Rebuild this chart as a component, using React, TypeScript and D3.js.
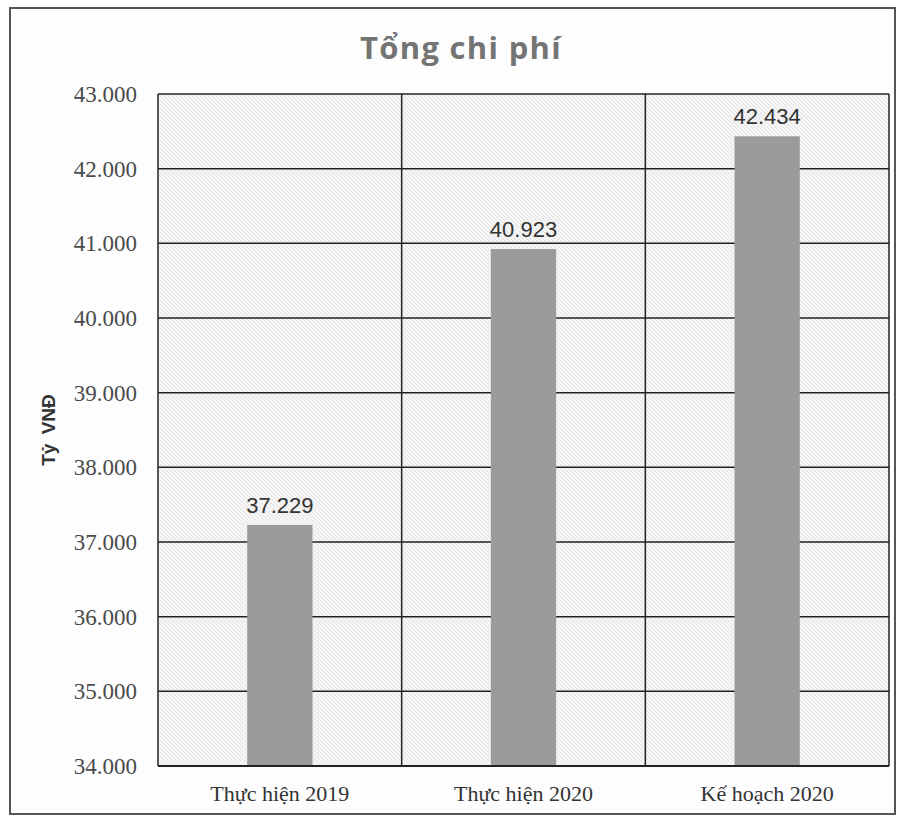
import React, { useEffect, useRef } from "react";
import * as d3 from "d3";

const title = "Tổng chi phí";
const yAxisLabel = "Tỷ VNĐ";
const categories = ["Thực hiện 2019", "Thực hiện 2020", "Kế hoạch 2020"];
const values = [37229, 40923, 42434];
const yTicks = [34000, 35000, 36000, 37000, 38000, 39000, 40000, 41000, 42000, 43000];

const width = 900;
const height = 817;

function App() {
  const ref = useRef<SVGSVGElement>(null);

  useEffect(() => {
    document.body.style.margin = "0";
    const svg = d3.select(ref.current);
    svg.selectAll("*").remove();

    const vn = d3.formatLocale({
      decimal: ",",
      thousands: ".",
      grouping: [3],
      currency: ["", " đ"],
    });
    const fmt = vn.format(",d");

    const margin = { top: 94, right: 11, bottom: 51, left: 158 };
    const innerW = width - margin.left - margin.right;
    const innerH = height - margin.top - margin.bottom;

    // hatched background like the printed chart
    const defs = svg.append("defs");
    const pat = defs
      .append("pattern")
      .attr("id", "hatch")
      .attr("patternUnits", "userSpaceOnUse")
      .attr("width", 4)
      .attr("height", 4);
    pat.append("rect").attr("width", 4).attr("height", 4).attr("fill", "#f6f6f6");
    pat
      .append("path")
      .attr("d", "M-1,-1 L5,5 M-1,3 L1,5 M3,-1 L5,1")
      .attr("stroke", "#dddddd")
      .attr("stroke-width", 0.8);

    // outer frame
    svg
      .append("rect")
      .attr("x", 10)
      .attr("y", 8)
      .attr("width", 885)
      .attr("height", 806)
      .attr("fill", "#fdfdfd")
      .attr("stroke", "#555")
      .attr("stroke-width", 2);

    svg
      .append("text")
      .attr("x", 461)
      .attr("y", 59)
      .attr("text-anchor", "middle")
      .style("font-family", "'Open Sans', sans-serif")
      .style("font-weight", "bold")
      .style("font-size", "31px")
      .style("letter-spacing", "1.3px")
      .style("fill", "#747474")
      .text(title);

    const g = svg
      .append("g")
      .attr("transform", "translate(" + margin.left + "," + margin.top + ")");

    const x = d3.scaleBand().domain(categories).range([0, innerW]).padding(0);
    const y = d3.scaleLinear().domain([34000, 43000]).range([innerH, 0]);

    g.append("rect")
      .attr("width", innerW)
      .attr("height", innerH)
      .attr("fill", "url(#hatch)");

    // horizontal grid
    g.selectAll(".hgrid")
      .data(yTicks)
      .enter()
      .append("line")
      .attr("class", "hgrid")
      .attr("x1", 0)
      .attr("x2", innerW)
      .attr("y1", (d) => y(d))
      .attr("y2", (d) => y(d))
      .attr("stroke", "#222")
      .attr("stroke-width", 1.5);

    // vertical grid at category boundaries
    const bounds = categories.map((c) => x(c)!).concat([innerW]);
    g.selectAll(".vgrid")
      .data(bounds)
      .enter()
      .append("line")
      .attr("class", "vgrid")
      .attr("x1", (d) => d)
      .attr("x2", (d) => d)
      .attr("y1", 0)
      .attr("y2", innerH)
      .attr("stroke", "#222")
      .attr("stroke-width", 1.5);

    const barW = x.bandwidth() * 0.268;

    g.selectAll(".bar")
      .data(values)
      .enter()
      .append("rect")
      .attr("class", "bar")
      .attr("x", (d, i) => x(categories[i])! + x.bandwidth() / 2 - barW / 2)
      .attr("y", (d) => y(d))
      .attr("width", barW)
      .attr("height", (d) => innerH - y(d))
      .attr("fill", "#9b9b9b");

    g.selectAll(".val")
      .data(values)
      .enter()
      .append("text")
      .attr("class", "val")
      .attr("x", (d, i) => x(categories[i])! + x.bandwidth() / 2)
      .attr("y", (d) => y(d) - 12)
      .attr("text-anchor", "middle")
      .style("font-family", "'Liberation Sans', Arial, sans-serif")
      .style("font-size", "22px")
      .style("fill", "#333")
      .text((d) => fmt(d));

    // bottom line of the plot
    g.append("line")
      .attr("x1", 0)
      .attr("x2", innerW)
      .attr("y1", innerH)
      .attr("y2", innerH)
      .attr("stroke", "#222")
      .attr("stroke-width", 2);

    g.selectAll(".ytick")
      .data(yTicks)
      .enter()
      .append("text")
      .attr("class", "ytick")
      .attr("x", -21)
      .attr("y", (d) => y(d))
      .attr("dy", "0.35em")
      .attr("text-anchor", "end")
      .style("font-family", "'Liberation Serif', serif")
      .style("font-size", "23px")
      .style("fill", "#4a4a4a")
      .text((d) => fmt(d));

    g.selectAll(".xtick")
      .data(categories)
      .enter()
      .append("text")
      .attr("class", "xtick")
      .attr("x", (d) => x(d)! + x.bandwidth() / 2)
      .attr("y", innerH + 35)
      .attr("text-anchor", "middle")
      .style("font-family", "'Liberation Serif', serif")
      .style("font-size", "22px")
      .style("fill", "#333")
      .text((d) => d);

    svg
      .append("text")
      .attr("transform", "translate(55," + (margin.top + innerH / 2) + ") rotate(-90)")
      .attr("text-anchor", "middle")
      .style("font-family", "'Liberation Sans', Arial, sans-serif")
      .style("font-size", "19px")
      .style("font-weight", "600")
      .style("word-spacing", "4px")
      .style("fill", "#333")
      .text(yAxisLabel);
  }, []);

  return <svg ref={ref} width={width} height={height} style={{ display: "block" }} />;
}

export default App;
